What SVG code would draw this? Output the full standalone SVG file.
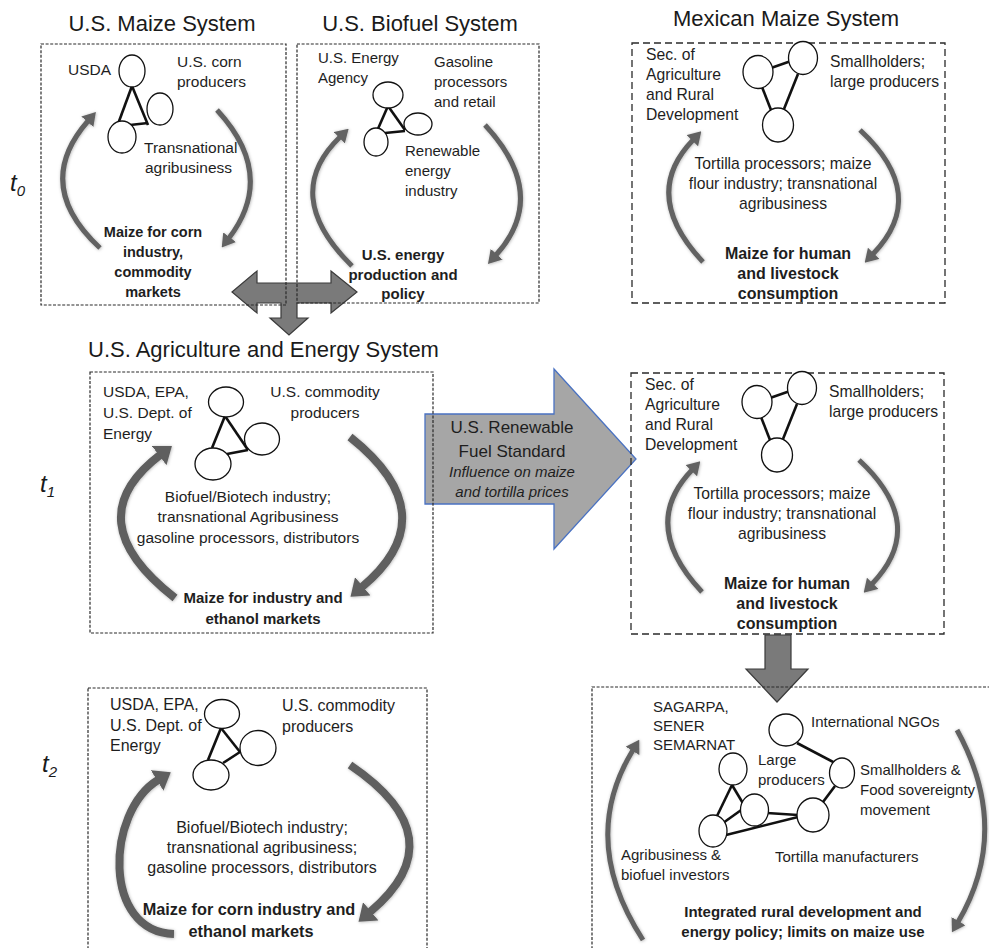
<svg xmlns="http://www.w3.org/2000/svg" width="989" height="948" viewBox="0 0 989 948">
<style>
.box{fill:none;stroke:#2a2a2a;stroke-width:1.2;stroke-dasharray:3 1.6}
.mbox{fill:none;stroke:#2a2a2a;stroke-width:1.3;stroke-dasharray:7 4}
.tx{font-family:"Liberation Sans",Arial,sans-serif;font-size:15px;fill:#1e1e1e}
.b{font-weight:bold}
.c{text-anchor:middle}
.ttl{font-family:"Liberation Sans",Arial,sans-serif;font-size:22px;fill:#1a1a1a}
.tl{font-family:"Liberation Sans",Arial,sans-serif;font-size:24px;font-style:italic;fill:#1a1a1a}
.nd{fill:#fff;stroke:#111;stroke-width:1.3}
.ln{stroke:#111;stroke-width:2.6;fill:none}
.cyc{fill:none;stroke:#626262;stroke-width:5;marker-end:url(#mS);filter:url(#sh)}
.cycL{fill:none;stroke:#5e5e5e;stroke-width:8;marker-end:url(#mL);filter:url(#sh)}
.blk{fill:#7a7a7a;stroke:#3a3a3a;stroke-width:1.2}
#us-maize-t0 .tx{font-size:15.5px}
#us-maize-t0 .b{font-size:14.5px}
#mex-maize-t0 .tx,#mex-maize-t1 .tx{font-size:15.7px}
#mex-maize-t0 .b,#mex-maize-t1 .b{font-size:16px}
#us-ag-energy-t1 .tx{font-size:15.5px}
#us-ag-energy-t1 .b{font-size:15px}
#us-ag-energy-t2 .tx{font-size:16px}
#us-ag-energy-t2 .b{font-size:16.3px}
</style>
<defs>
<marker id="mS" viewBox="0 0 13 16" markerWidth="13" markerHeight="16" refX="1" refY="8" orient="auto" markerUnits="userSpaceOnUse"><path d="M0,0 L13,8 L0,16 Z" fill="#626262"/></marker>
<marker id="mL" viewBox="0 0 16 24" markerWidth="16" markerHeight="24" refX="1" refY="12" orient="auto" markerUnits="userSpaceOnUse"><path d="M0,0 L16,12 L0,24 Z" fill="#5e5e5e"/></marker>
<filter id="sh" x="-30%" y="-30%" width="160%" height="160%"><feDropShadow dx="0.5" dy="0.5" stdDeviation="1.4" flood-color="#000" flood-opacity="0.3"/></filter>
</defs>
<rect width="989" height="948" fill="#fff"/>

<g id="connectors">
<polygon id="rfs-arrow" points="425,414 554,414 554,369 636,459 554,549 554,504 425,504" fill="#a6a6a6" stroke="#4a72c2" stroke-width="1.3"/>
<polygon id="merge-arrow" class="blk" points="232,292 257,271 257,283 331,283 331,271 357,292 331,313 331,303 297,303 297,318 308,318 289,335 270,318 281,318 281,303 257,303 257,313"/>
<polygon id="down-arrow" class="blk" points="765,635 791,635 791,669 808,669 777,702 746,669 765,669"/>
<text class="tx c" x="512" y="433" style="font-size:17px">U.S. Renewable</text>
<text class="tx c" x="512" y="457" style="font-size:17px">Fuel Standard</text>
<text class="tx c" x="512" y="477" font-style="italic">Influence on maize</text>
<text class="tx c" x="512" y="497" font-style="italic">and tortilla prices</text>
</g>

<text class="tl" x="10" y="191">t<tspan font-size="15" dy="5">0</tspan></text>
<text class="tl" x="40" y="492">t<tspan font-size="15" dy="5">1</tspan></text>
<text class="tl" x="42" y="772">t<tspan font-size="15" dy="5">2</tspan></text>

<text class="ttl c" x="162" y="31">U.S. Maize System</text>
<text class="ttl c" x="420" y="31">U.S. Biofuel System</text>
<text class="ttl c" x="786" y="26">Mexican Maize System</text>
<text class="ttl" x="88" y="357">U.S. Agriculture and Energy System</text>

<g id="us-maize-t0">
<rect class="box" x="41" y="44" width="245" height="261"/>
<line class="ln" x1="132" y1="86" x2="118" y2="124"/>
<line class="ln" x1="132" y1="86" x2="148" y2="125"/>
<line class="ln" x1="130" y1="125" x2="148" y2="123"/>
<ellipse class="nd" cx="132" cy="71" rx="13" ry="16"/>
<ellipse class="nd" cx="160" cy="109" rx="13" ry="16"/>
<ellipse class="nd" cx="122" cy="137" rx="14" ry="16"/>
<text class="tx" x="68" y="75">USDA</text>
<text class="tx" x="177" y="67">U.S. corn</text>
<text class="tx" x="177" y="87">producers</text>
<text class="tx" x="144" y="153">Transnational</text>
<text class="tx" x="145" y="173">agribusiness</text>
<text class="tx b c" x="153" y="237">Maize for corn</text>
<text class="tx b c" x="153" y="257">industry,</text>
<text class="tx b c" x="153" y="277">commodity</text>
<text class="tx b c" x="153" y="297">markets</text>
<path class="cyc" d="M100,248 Q32,185 88,121"/>
<path class="cyc" d="M217,110 Q277,175 229,238"/>
</g>

<g id="us-biofuel-t0">
<rect class="box" x="297" y="44" width="242" height="259"/>
<line class="ln" x1="388" y1="106" x2="377" y2="131"/>
<line class="ln" x1="388" y1="106" x2="405" y2="130"/>
<line class="ln" x1="385" y1="133" x2="405" y2="131"/>
<ellipse class="nd" cx="388" cy="95" rx="15" ry="13"/>
<ellipse class="nd" cx="418" cy="124" rx="14" ry="11"/>
<ellipse class="nd" cx="376" cy="142" rx="12" ry="14"/>
<text class="tx" x="318" y="63">U.S. Energy</text>
<text class="tx" x="318" y="83">Agency</text>
<text class="tx" x="434" y="67">Gasoline</text>
<text class="tx" x="434" y="87">processors</text>
<text class="tx" x="434" y="107">and retail</text>
<text class="tx" x="405" y="156">Renewable</text>
<text class="tx" x="405" y="176">energy</text>
<text class="tx" x="405" y="196">industry</text>
<text class="tx b c" x="403" y="260">U.S. energy</text>
<text class="tx b c" x="403" y="280">production  and</text>
<text class="tx b c" x="403" y="299">policy</text>
<path class="cyc" d="M352,266 Q280,195 340,137"/>
<path class="cyc" d="M485,125 Q550,195 496,255"/>
</g>

<g id="mex-maize-t0">
<rect class="mbox" x="632" y="43" width="313" height="260"/>
<line class="ln" x1="771" y1="68" x2="791" y2="61"/>
<line class="ln" x1="762" y1="87" x2="771" y2="110"/>
<line class="ln" x1="798" y1="74" x2="784" y2="109"/>
<ellipse class="nd" cx="758" cy="72" rx="15" ry="16.5"/>
<ellipse class="nd" cx="803" cy="58" rx="14.5" ry="16.5"/>
<ellipse class="nd" cx="778" cy="125" rx="15.5" ry="17"/>
<text class="tx" x="646" y="60">Sec. of</text>
<text class="tx" x="646" y="80">Agriculture</text>
<text class="tx" x="646" y="100">and Rural</text>
<text class="tx" x="646" y="120">Development</text>
<text class="tx" x="830" y="67">Smallholders;</text>
<text class="tx" x="830" y="87">large producers</text>
<text class="tx c" x="783" y="169">Tortilla processors; maize</text>
<text class="tx c" x="783" y="189">flour industry; transnational</text>
<text class="tx c" x="783" y="209">agribusiness</text>
<text class="tx b c" x="788" y="259">Maize for human</text>
<text class="tx b c" x="788" y="279">and livestock</text>
<text class="tx b c" x="788" y="299">consumption</text>
<path class="cyc" d="M703,262 Q640,195 693,140"/>
<path class="cyc" d="M860,130 Q930,195 873,254"/>
</g>

<g id="us-ag-energy-t1">
<rect class="box" x="90" y="372" width="343" height="261"/>
<line class="ln" x1="225" y1="416" x2="212" y2="448"/>
<line class="ln" x1="225" y1="416" x2="248" y2="450"/>
<line class="ln" x1="227" y1="454" x2="248" y2="450"/>
<ellipse class="nd" cx="226" cy="402" rx="17.5" ry="15"/>
<ellipse class="nd" cx="262" cy="439" rx="17.5" ry="16"/>
<ellipse class="nd" cx="213" cy="464" rx="18" ry="16"/>
<text class="tx" x="103" y="397">USDA, EPA,</text>
<text class="tx" x="103" y="418">U.S. Dept. of</text>
<text class="tx" x="103" y="439">Energy</text>
<text class="tx c" x="325" y="397">U.S. commodity</text>
<text class="tx c" x="325" y="418">producers</text>
<text class="tx c" x="248" y="502">Biofuel/Biotech industry;</text>
<text class="tx c" x="248" y="522">transnational Agribusiness</text>
<text class="tx c" x="248" y="543">gasoline processors, distributors</text>
<text class="tx b c" x="263" y="603">Maize for industry and</text>
<text class="tx b c" x="263" y="624">ethanol markets</text>
<path class="cycL" d="M175,598 Q75,520 160,455"/>
<path class="cycL" d="M350,437 Q448,515 362,587"/>
</g>

<g id="mex-maize-t1">
<rect class="mbox" x="631" y="373" width="313" height="261"/>
<line class="ln" x1="770" y1="398" x2="790" y2="391"/>
<line class="ln" x1="761" y1="417" x2="770" y2="440"/>
<line class="ln" x1="797" y1="404" x2="783" y2="439"/>
<ellipse class="nd" cx="757" cy="402" rx="15" ry="16.5"/>
<ellipse class="nd" cx="802" cy="388" rx="14.5" ry="16.5"/>
<ellipse class="nd" cx="777" cy="455" rx="15.5" ry="17"/>
<text class="tx" x="645" y="390">Sec. of</text>
<text class="tx" x="645" y="410">Agriculture</text>
<text class="tx" x="645" y="430">and Rural</text>
<text class="tx" x="645" y="450">Development</text>
<text class="tx" x="829" y="397">Smallholders;</text>
<text class="tx" x="829" y="417">large producers</text>
<text class="tx c" x="782" y="499">Tortilla processors; maize</text>
<text class="tx c" x="782" y="519">flour industry; transnational</text>
<text class="tx c" x="782" y="539">agribusiness</text>
<text class="tx b c" x="787" y="589">Maize for human</text>
<text class="tx b c" x="787" y="609">and livestock</text>
<text class="tx b c" x="787" y="629">consumption</text>
<path class="cyc" d="M702,592 Q639,525 692,470"/>
<path class="cyc" d="M859,460 Q929,525 872,584"/>
</g>

<g id="us-ag-energy-t2">
<rect class="box" x="88" y="688" width="339" height="270"/>
<line class="ln" x1="221" y1="728" x2="208" y2="760"/>
<line class="ln" x1="221" y1="728" x2="240" y2="752"/>
<line class="ln" x1="223" y1="763" x2="240" y2="752"/>
<ellipse class="nd" cx="222" cy="714" rx="17.5" ry="14.5"/>
<ellipse class="nd" cx="258" cy="748" rx="18" ry="17.5"/>
<ellipse class="nd" cx="211" cy="775" rx="18" ry="15"/>
<text class="tx" x="110" y="710">USDA, EPA,</text>
<text class="tx" x="110" y="731">U.S. Dept. of</text>
<text class="tx" x="110" y="751">Energy</text>
<text class="tx" x="282" y="711">U.S. commodity</text>
<text class="tx" x="282" y="732">producers</text>
<text class="tx c" x="262" y="833">Biofuel/Biotech industry;</text>
<text class="tx c" x="262" y="853">transnational agribusiness;</text>
<text class="tx c" x="262" y="873">gasoline processors, distributors</text>
<text class="tx b c" x="249" y="915">Maize for corn industry and</text>
<text class="tx b c" x="251" y="937">ethanol markets</text>
<path class="cycL" d="M174,934 C102,932 106,812 158,780"/>
<path class="cycL" d="M350,765 Q458,838 370,912"/>
</g>

<g id="mex-integrated-t2">
<rect class="box" x="592" y="687" width="420" height="270"/>
<line class="ln" x1="797" y1="743" x2="835" y2="763"/>
<line class="ln" x1="835" y1="786" x2="823" y2="802"/>
<line class="ln" x1="732" y1="785" x2="717" y2="816"/>
<line class="ln" x1="732" y1="785" x2="744" y2="805"/>
<line class="ln" x1="723" y1="823" x2="744" y2="808"/>
<line class="ln" x1="767" y1="813" x2="798" y2="815"/>
<line class="ln" x1="726" y1="835" x2="798" y2="817"/>
<ellipse class="nd" cx="786" cy="730" rx="17" ry="16"/>
<ellipse class="nd" cx="842" cy="773" rx="12.5" ry="15"/>
<ellipse class="nd" cx="813" cy="815" rx="16" ry="17"/>
<ellipse class="nd" cx="733" cy="769" rx="14" ry="16"/>
<ellipse class="nd" cx="754.5" cy="810" rx="14" ry="16"/>
<ellipse class="nd" cx="713" cy="831" rx="14" ry="16"/>
<text class="tx" x="653" y="712">SAGARPA,</text>
<text class="tx" x="653" y="731">SENER</text>
<text class="tx" x="653" y="750">SEMARNAT</text>
<text class="tx" x="811" y="727">International NGOs</text>
<text class="tx" x="758" y="765">Large</text>
<text class="tx" x="758" y="785">producers</text>
<text class="tx" x="860" y="775">Smallholders &amp;</text>
<text class="tx" x="860" y="795">Food sovereignty</text>
<text class="tx" x="860" y="815">movement</text>
<text class="tx" x="775" y="862">Tortilla manufacturers</text>
<text class="tx" x="621" y="860">Agribusiness &amp;</text>
<text class="tx" x="621" y="880">biofuel investors</text>
<text class="tx b c" x="803" y="917">Integrated rural development and</text>
<text class="tx b c" x="803" y="937">energy policy; limits on maize use</text>
<path class="cyc" d="M643,940 Q578,840 633,750"/>
<path class="cyc" d="M957,730 Q1012,830 958,922"/>
</g>
</svg>
